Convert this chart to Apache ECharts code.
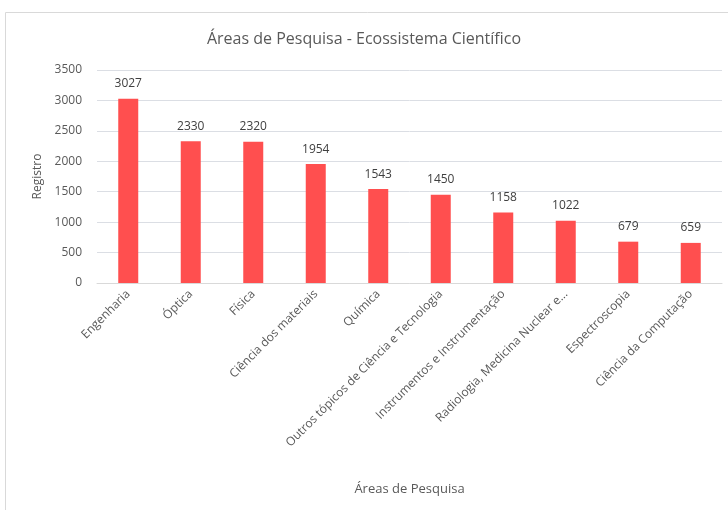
<!DOCTYPE html>
<html><head><meta charset="utf-8">
<script src="https://cdn.jsdelivr.net/npm/echarts@6/dist/echarts.min.js"></script>
<style>html,body{margin:0;padding:0;background:#fff}#c{width:728px;height:510px}</style>
</head><body><div id="c"></div>
<script>
const categories = ["Engenharia","Óptica","Física","Ciência dos materiais","Química","Outros tópicos de Ciência e Tecnologia","Instrumentos e Instrumentação","Radiologia, Medicina Nuclear e...","Espectroscopia","Ciência da Computação"];
const values = [3027,2330,2320,1954,1543,1450,1158,1022,679,659];
const yTicks = [0,500,1000,1500,2000,2500,3000,3500];

const chart = echarts.init(document.getElementById('c'));
const font = '"Open Sans", sans-serif';
chart.setOption({
  animation:false,
  title:{text:'Áreas de Pesquisa - Ecossistema Científico',left:'center',top:26,textStyle:{fontFamily:font,fontSize:16,fontWeight:'normal',color:'#595959'}},
  graphic:[{type:'rect',shape:{x:5.5,y:12.5,width:730,height:520},style:{fill:'none',stroke:'#d9d9d9',lineWidth:1},silent:true}],
  grid:{left:97,right:6,top:70,bottom:227},
  xAxis:{type:'category',data:categories,name:'Áreas de Pesquisa',nameLocation:'middle',nameGap:200,
    nameTextStyle:{fontFamily:font,fontSize:13,color:'#595959'},
    axisLine:{lineStyle:{color:'#d9d9d9'}},axisTick:{show:false},
    axisLabel:{rotate:45,interval:0,fontFamily:font,fontSize:12,color:'#595959',margin:9}},
  yAxis:{type:'value',min:yTicks[0],max:yTicks[yTicks.length-1],interval:500,name:'Registro',nameLocation:'middle',nameGap:50,
    nameTextStyle:{fontFamily:font,fontSize:12,color:'#595959'},
    axisLine:{show:false},axisTick:{show:false},
    axisLabel:{fontFamily:font,fontSize:12,color:'#595959',margin:15,formatter:v=>String(v)}},
  series:[{type:'bar',data:values,barWidth:20,itemStyle:{color:'#FF4F4F'},
    label:{show:true,position:'top',distance:9,fontFamily:font,fontSize:12,color:'#404040'}}]
});
</script></body></html>
